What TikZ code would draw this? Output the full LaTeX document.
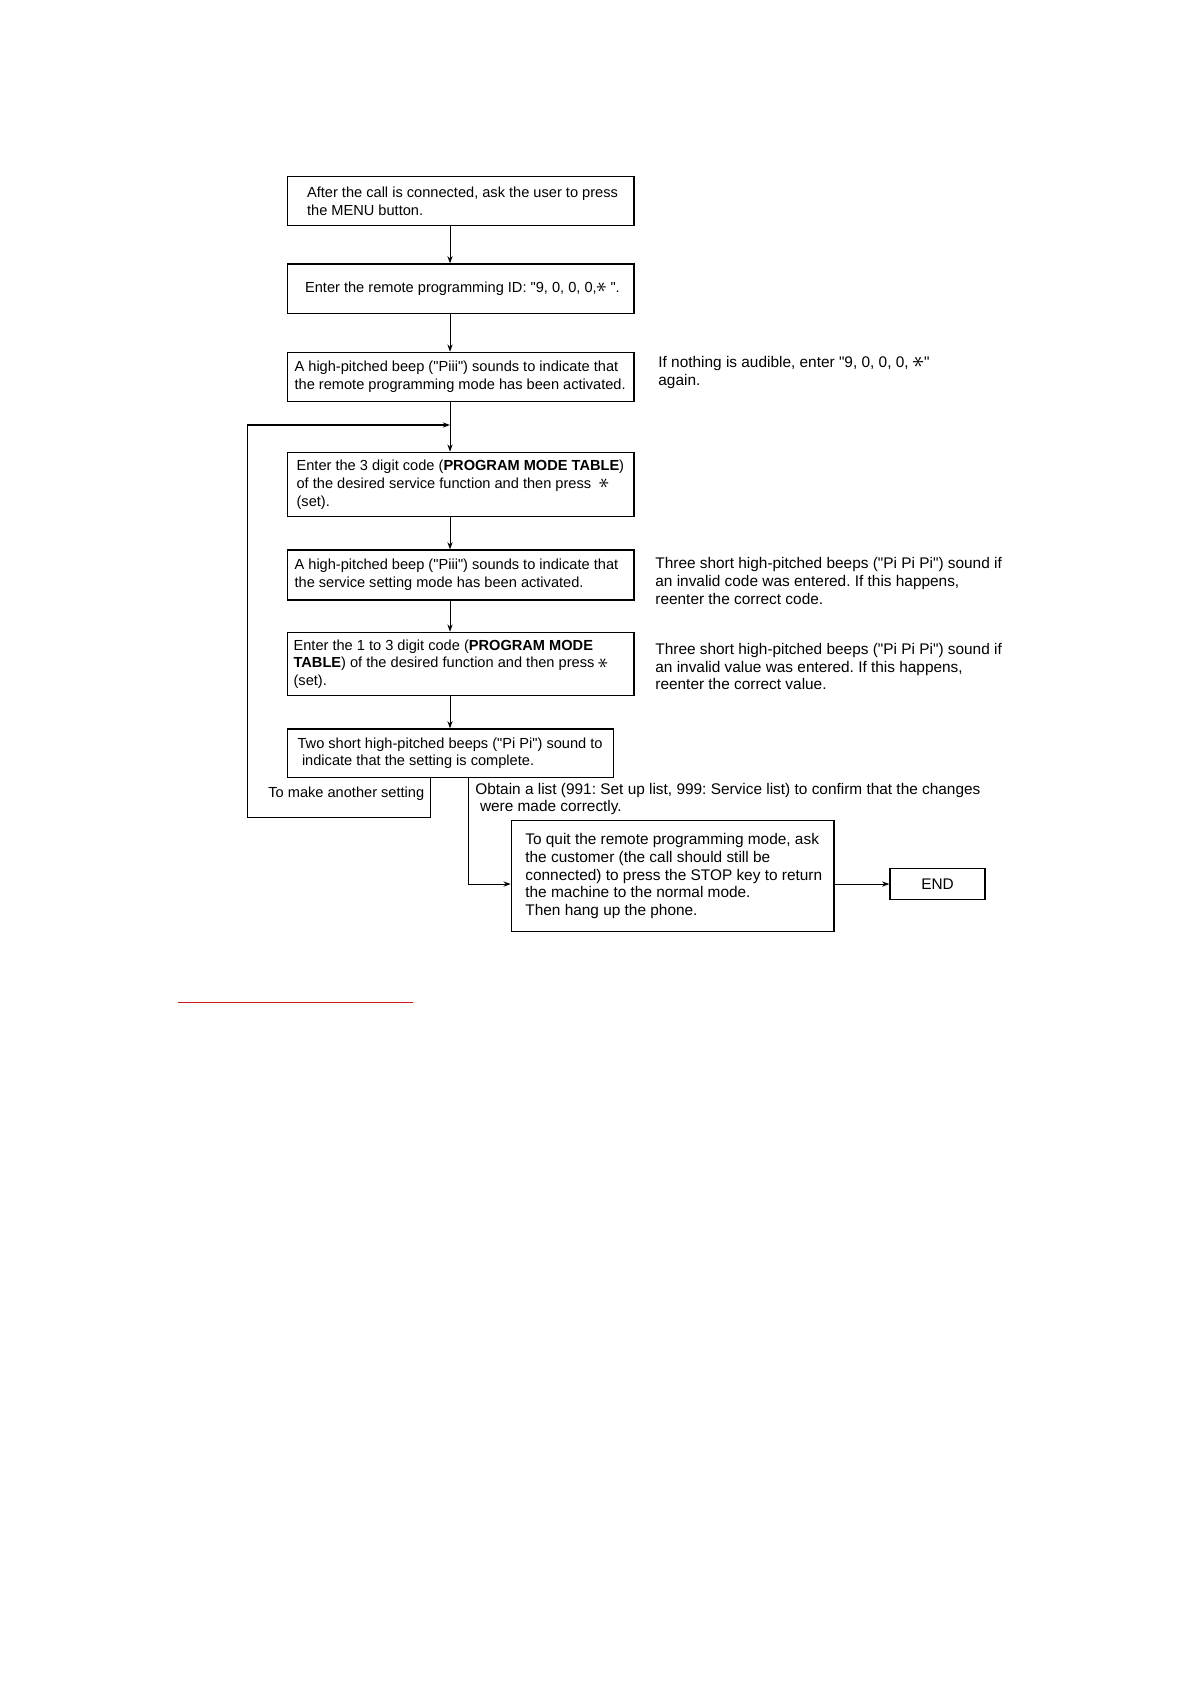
\documentclass[tikz,border=0pt]{standalone}
\usepackage{fontspec}
\newfontfamily\flowface{Liberation Sans}
\usetikzlibrary{arrows.meta, positioning, calc}
\definecolor{rulered}{RGB}{205,25,30}
\frenchspacing
\newcommand{\flowfont}{\flowface\fontsize{7.3pt}{8.85pt}\selectfont}
\newcommand{\notefont}{\flowface\fontsize{7.7pt}{8.85pt}\selectfont}
\newcommand{\keystar}{\scalebox{1.5}{\rotatebox[origin=c]{90}{$\ast$}}}

\begin{document}
\begin{tikzpicture}[x=0.5pt, y=-0.5pt, font=\flowfont,
  stepbox/.style={draw, line width=0.7pt, anchor=north west, inner sep=0pt, minimum width=173.3pt},
  boxtext/.style={anchor=west, align=left, inner sep=0pt},
  note/.style={anchor=west, align=left, inner sep=0pt, font=\notefont},
  flow/.style={line width=0.5pt, -{Stealth[length=3.6pt, width=2.6pt]}},
]
\useasboundingbox (0,0) rectangle (1190,1682);
% ---------- main column ----------
\coordinate (spine) at (450,0);
\node[stepbox, minimum height=24.5pt] (b1) at (286.7,176) {};
\node[boxtext] (t1) at ([xshift=10pt]b1.west) {After the call is connected, ask the user to press\\the MENU button.};
\node[stepbox, minimum height=24.7pt] (b2) at (286.7,263.3) {};
\node[boxtext] (t2) at ([xshift=9pt]b2.west) {Enter the remote programming ID: "9, 0, 0, 0,\keystar\ ".};
\node[stepbox, minimum height=24.5pt] (b3) at (286.7,351.7) {};
\node[boxtext] (t3) at ([xshift=3.75pt]b3.west) {A high-pitched beep ("Piii") sounds to indicate that\\the remote programming mode has been activated.};
\node[stepbox, minimum height=32.15pt] (b4) at (286.7,451.7) {};
\node[boxtext] (t4) at ([xshift=4.75pt]b4.west) {Enter the 3 digit code (\textbf{PROGRAM MODE TABLE})\\of the desired service function and then press \ \keystar\\(set).};
\node[stepbox, minimum height=25pt] (b5) at (286.7,549.3) {};
\node[boxtext] (t5) at ([xshift=3.75pt]b5.west) {A high-pitched beep ("Piii") sounds to indicate that\\the service setting mode has been activated.};
\node[stepbox, minimum height=31.65pt] (b6) at (286.7,631.7) {};
\node[boxtext] (t6) at ([xshift=3.25pt]b6.west) {Enter the 1 to 3 digit code (\textbf{PROGRAM MODE}\\\textbf{TABLE}) of the desired function and then press \keystar\\(set).};
\node[stepbox, minimum width=163pt, minimum height=24.2pt] (b7) at (286.7,728.3) {};
\node[boxtext] (t7) at ([xshift=5.25pt]b7.west) {Two short high-pitched beeps ("Pi Pi") sound to\\\hspace{2.2pt}indicate that the setting is complete.};
\foreach \a/\b in {b1/b2,b2/b3,b3/b4,b4/b5,b5/b6,b6/b7}
  \draw[flow] (\a.south -| spine) -- (\b.north -| spine);
% ---------- side notes ----------
\node[note] (n1) at (658,372.3) {If nothing is audible, enter "9, 0, 0, 0, \keystar"\\again.};
\node[note] (n2) at (655,581) {Three short high-pitched beeps ("Pi Pi Pi") sound if\\an invalid code was entered. If this happens,\\reenter the correct code.};
\node[note] (n3) at (655,666.5) {Three short high-pitched beeps ("Pi Pi Pi") sound if\\an invalid value was entered. If this happens,\\reenter the correct value.};
% ---------- loop back for another setting ----------
\coordinate (againR) at (430.7,817.3);
\coordinate (againL) at (247.3,817.3);
\coordinate (loopT) at (247.3,425);
\draw[flow, line width=0.6pt] (b7.south -| againR) -- (againR) -- (againL) -- (loopT) -- (loopT -| spine);
\node[boxtext] (again) at (268,794) {To make another setting};
% ---------- list, quit and end ----------
\node[note] (list) at (475,799) {Obtain a list (991: Set up list, 999: Service list) to confirm that the changes\\\hspace{2.3pt}were made correctly.};
\node[stepbox, minimum width=161.3pt, minimum height=55.5pt] (quit) at (510.7,820) {};
\node[boxtext, font=\notefont] (tq) at ([xshift=7.15pt]quit.west) {To quit the remote programming mode, ask\\the customer (the call should still be\\connected) to press the STOP key to return\\the machine to the normal mode.\\Then hang up the phone.};
\node[stepbox, minimum width=47.5pt, minimum height=15.65pt, font=\notefont] (finish) at (889.3,867.7) {END};
\coordinate (listx) at (468.3,0);
\draw[flow] (b7.south -| listx) |- (quit.west |- finish.west);
\draw[flow] (quit.east |- finish.west) -- (finish.west);
% ---------- red rule ----------
\draw[rulered, line width=0.65pt] (178.3,1002.3) -- (412.7,1002.3);
\end{tikzpicture}
\end{document}
